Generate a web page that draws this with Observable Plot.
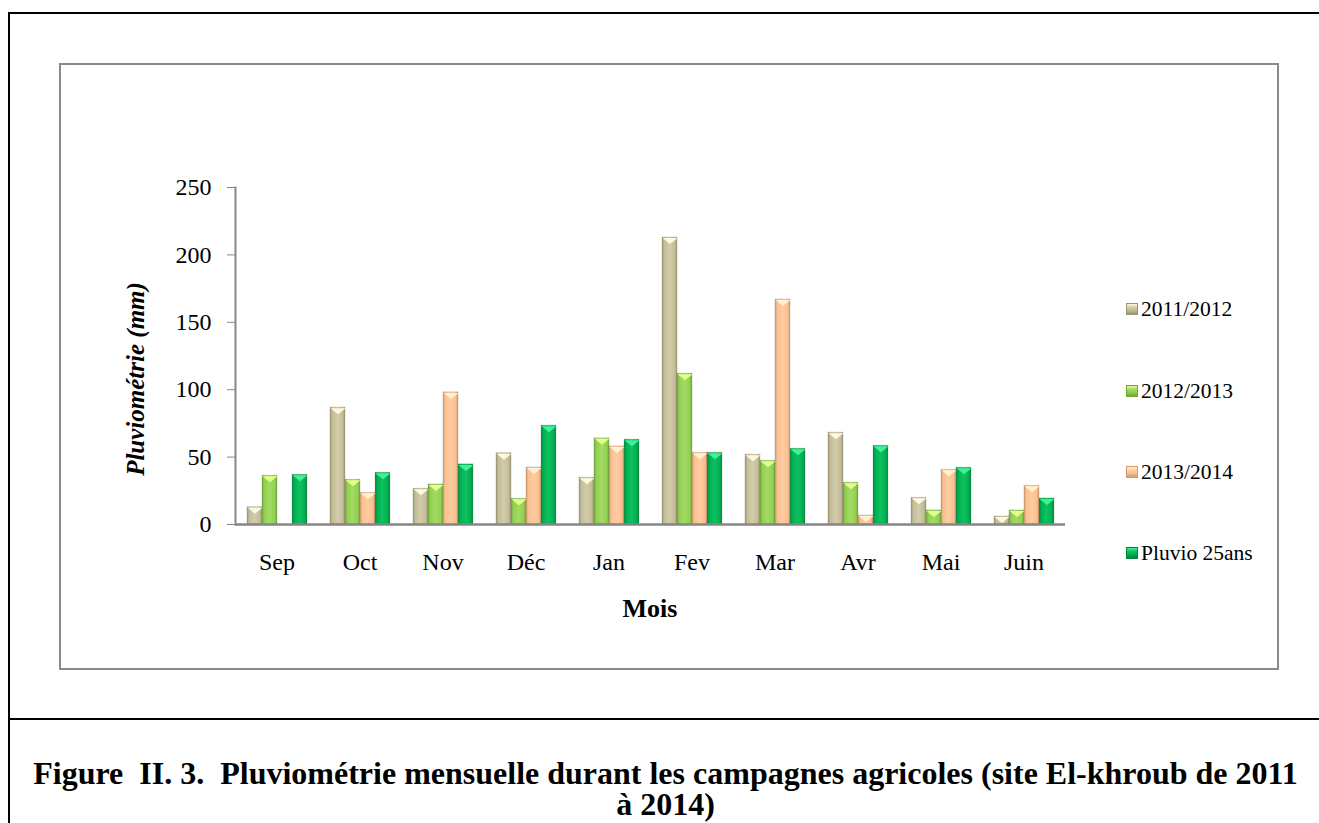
<!DOCTYPE html>
<html>
<head>
<meta charset="utf-8">
<script src="https://cdn.jsdelivr.net/npm/d3@7"></script>
<script src="https://cdn.jsdelivr.net/npm/@observablehq/plot@0.6"></script>
<style>
  body { margin: 0; background: #fff; font-family: "Liberation Serif", "Times New Roman", serif; }
  #page { position: relative; width: 1319px; height: 823px; overflow: hidden; background: #fff; }
  #outer { position: absolute; left: 8px; top: 12px; width: 1330px; height: 900px; border: 2px solid #000; box-sizing: border-box; }
  #sep { position: absolute; left: 8px; top: 718px; width: 1311px; height: 2px; background: #000; }
  #chartbox { position: absolute; left: 59px; top: 63px; width: 1216px; height: 603px; border: 2px solid #8a8a8a; background: #fff; }
  #chartbox svg { display: block; }
  #ylabel { position: absolute; left: 135px; top: 379px; transform: translate(-50%, -50%) rotate(-90deg); white-space: nowrap; font-style: italic; font-weight: bold; font-size: 25px; line-height: 1; }
  #xlabel { position: absolute; left: 650px; top: 596px; transform: translateX(-50%); font-weight: bold; font-size: 26px; line-height: 26px; }
  .leg { position: absolute; left: 1126px; height: 24px; display: flex; align-items: center; font-size: 21.5px; white-space: nowrap; }
  .leg .sw { width: 12px; height: 12px; margin-right: 3px; box-sizing: border-box; }
  .cap { position: absolute; left: 0; width: 1331px; text-align: center; font-weight: bold; font-size: 32px; white-space: nowrap; }
</style>
</head>
<body>
<div id="page">
  <div id="outer"></div>
  <div id="sep"></div>
  <div id="chartbox"></div>
  <div id="ylabel">Pluviométrie (mm)</div>
  <div id="xlabel">Mois</div>
  <div id="legend"></div>
  <div class="cap" id="cap1" style="top:758px; line-height:30px">Figure&nbsp; II. 3.&nbsp; Pluviométrie mensuelle durant les campagnes agricoles (site El-khroub de 2011</div>
  <div class="cap" id="cap2" style="top:791px; line-height:26px">à 2014)</div>
</div>
<script>
// ---- data ----
const months = ["Sep", "Oct", "Nov", "Déc", "Jan", "Fev", "Mar", "Avr", "Mai", "Juin"];
const series = ["2011/2012", "2012/2013", "2013/2014", "Pluvio 25ans"];
const v2011_2012 = [12.8, 86.7, 26.5, 52.9, 34.7, 212.9, 51.8, 68.1, 19.8, 5.9];
const v2012_2013 = [36.2, 33.2, 29.7, 19.1, 63.9, 111.9, 47.3, 31.0, 10.4, 10.4];
const v2013_2014 = [null, 23.5, 98.0, 42.3, 57.9, 53.2, 166.9, 6.7, 40.6, 28.7];
const vPluvio25 = [36.9, 38.4, 44.6, 73.3, 62.9, 53.2, 56.2, 58.4, 42.1, 19.3];
const yTicks = [0, 50, 100, 150, 200, 250];

// ---- styling ----
const baseColors = ["#C4BD97", "#92D050", "#FAC090", "#00B050"];
const edgeColors = ["#9C9573", "#6FA838", "#D49A6A", "#00853C"];
const lightColors = ["#D2CCAD", "#A2DA64", "#FDCCA2", "#0FC060"];
const capColors = ["#FFF8DC", "#E2FF8C", "#FFF0D0", "#3EF29A"];
const gradIds = series.map((s, i) => "grad" + i);

const allValues = [v2011_2012, v2012_2013, v2013_2014, vPluvio25];
const data = [];
months.forEach((m, mi) => {
  series.forEach((s, si) => {
    const v = allValues[si][mi];
    if (v != null) data.push({month: m, series: s, value: v});
  });
});

// flat inverted triangle for bevelled bar tops
const capSymbol = {
  draw(context, size) {
    const r = Math.sqrt(size / Math.PI);
    const w = r * 1.5, h = r * 0.6;
    context.moveTo(-w, -h);
    context.lineTo(w, -h);
    context.lineTo(0, h);
    context.closePath();
  }
};

const chart = Plot.plot({
  width: 1216,
  height: 603,
  marginLeft: 170,
  marginRight: 207,
  marginTop: 122,
  marginBottom: 144,
  style: {fontFamily: "'Liberation Serif', 'Times New Roman', serif", fontSize: "24px", background: "white", color: "black"},
  fx: {domain: months, paddingInner: 0.26, paddingOuter: 0.13},
  x: {domain: series, padding: 0, axis: null},
  y: {domain: [0, 250]},
  color: {domain: series, range: gradIds.map(id => `url(#${id})`)},
  marks: [
    Plot.barY(data, {fx: "month", x: "series", y: "value", fill: "series", stroke: "#7f7f6a", strokeOpacity: 0.35, strokeWidth: 0.8}),
    Plot.dot(data.filter(d => d.value > 4), {fx: "month", x: "series", y: "value", symbol: capSymbol, r: 5, dy: 3.5,
      fill: d => capColors[series.indexOf(d.series)], stroke: "none"}),
    Plot.ruleY([0], {stroke: "#868686", strokeWidth: 2.5, insetLeft: -11, insetRight: -11}),
    Plot.frame({anchor: "left", facetAnchor: "left", stroke: "#868686", strokeWidth: 2, insetLeft: -11}),
    Plot.axisY({ticks: yTicks, tickSize: 8, tickPadding: 16, fontSize: 24, dx: -11, stroke: "#868686", fill: "black", label: null, tickFormat: d => String(d)}),
    Plot.axisFx({anchor: "bottom", tickSize: 0, tickPadding: 28, fontSize: 24, label: null, fill: "black"})
  ]
});

// gradients
const defs = d3.select(chart).insert("defs", ":first-child");
series.forEach((s, i) => {
  const g = defs.append("linearGradient").attr("id", gradIds[i]).attr("x1", "0").attr("x2", "1").attr("y1", "0").attr("y2", "0");
  [[0, edgeColors[i]], [0.15, baseColors[i]], [0.5, lightColors[i]], [0.85, baseColors[i]], [1, edgeColors[i]]]
    .forEach(([o, c]) => g.append("stop").attr("offset", o).attr("stop-color", c));
});

document.getElementById("chartbox").appendChild(chart);

// legend
const legTops = [297, 379, 460, 541];
const legend = document.getElementById("legend");
series.forEach((s, i) => {
  const item = document.createElement("div");
  item.className = "leg";
  item.style.top = legTops[i] + "px";
  const sw = document.createElement("div");
  sw.className = "sw";
  sw.style.background = `linear-gradient(to bottom, ${capColors[i]} 0%, ${lightColors[i]} 35%, ${baseColors[i]} 60%, ${edgeColors[i]} 100%)`;
  sw.style.border = `1px solid ${edgeColors[i]}`;
  const t = document.createElement("span");
  t.textContent = s;
  item.appendChild(sw);
  item.appendChild(t);
  legend.appendChild(item);
});
</script>
</body>
</html>
